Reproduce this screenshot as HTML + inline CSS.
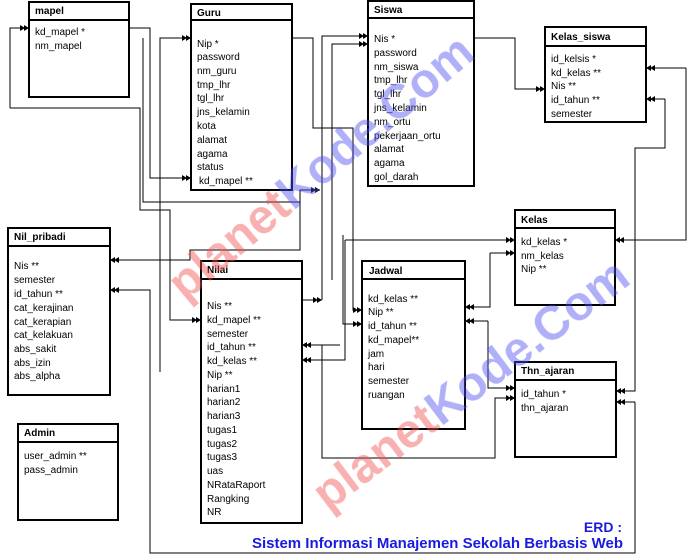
<!DOCTYPE html>
<html><head><meta charset="utf-8"><style>
body{margin:0;background:#fff}
svg{display:block}
text{font-family:"Liberation Sans",sans-serif}
.t{font-size:10px;fill:#000}
.h{font-size:10px;font-weight:bold;fill:#000}
.b{fill:#fff;stroke:#000;stroke-width:2}
.l{fill:none;stroke:#000;stroke-width:1}
</style></head><body>
<svg width="700" height="557" viewBox="0 0 700 557" xmlns="http://www.w3.org/2000/svg">
<defs>
<marker id="a" markerWidth="10" markerHeight="6" refX="9" refY="3" orient="auto" markerUnits="userSpaceOnUse">
<path d="M0,0 L5,3 L0,6Z M4,0 L9,3 L4,6Z" fill="#000"/></marker>
</defs>
<!-- connectors -->
<g class="l" marker-end="url(#a)">
<path d="M10,108 V28 H29"/>
<path d="M10,108 H140 V210 H170 V320 H201"/>
<path d="M129,28 H150 V178 H191"/>
<path d="M143,38 V202 H300 V190 H320"/>
<path d="M160,372 V38 H191"/>
<path d="M292,38 H313 V128 H353 V310 H362"/>
<path d="M322,300 V36 H368"/>
<path d="M332,280 V44 H368"/>
<path d="M302,300 H322"/>
<path d="M474,38 H515 V89 H545"/>
<path d="M686,68 H646"/>
<path d="M686,68 V240 H615"/>
<path d="M665,99 H646"/>
<path d="M665,99 V148 H635 V391 H616"/>
<path d="M635,402 V553 H150 V290 H110"/>
<path d="M635,402 H616"/>
<path d="M300,200 V250 H190 V260 H110"/>
<path d="M345,240 H515"/>
<path d="M345,240 V360 H302"/>
<path d="M340,345 H302"/>
<path d="M343,235 V324 H362"/>
<path d="M490,253 H515"/>
<path d="M490,253 V307 H465"/>
<path d="M488,321 H465"/>
<path d="M488,321 V388 H515"/>
<path d="M322,345 V458 H495 V398 H515"/>
</g>
<!-- boxes -->
<g>
<rect class="b" x="29" y="2" width="100" height="95"/><line class="l" x1="29" y1="20" x2="129" y2="20" style="stroke-width:2"/>
<text class="h" x="35" y="14">mapel</text>
<text class="t" x="35" y="35">kd_mapel *</text><text class="t" x="35" y="49">nm_mapel</text>

<rect class="b" x="191" y="4" width="101" height="186"/><line class="l" x1="191" y1="20" x2="292" y2="20" style="stroke-width:2"/>
<text class="h" x="197" y="16">Guru</text>
<g class="t"><text x="197" y="47">Nip *</text><text x="197" y="60">password</text><text x="197" y="74">nm_guru</text><text x="197" y="88">tmp_lhr</text><text x="197" y="101">tgl_lhr</text><text x="197" y="115">jns_kelamin</text><text x="197" y="129">kota</text><text x="197" y="143">alamat</text><text x="197" y="157">agama</text><text x="197" y="170">status</text><text x="199" y="184">kd_mapel **</text></g>

<rect class="b" x="368" y="1" width="106" height="185"/><line class="l" x1="368" y1="18" x2="474" y2="18" style="stroke-width:2"/>
<text class="h" x="374" y="13">Siswa</text>
<g class="t"><text x="374" y="42">Nis *</text><text x="374" y="56">password</text><text x="374" y="70">nm_siswa</text><text x="374" y="83">tmp_lhr</text><text x="374" y="97">tgl_lhr</text><text x="374" y="111">jns_kelamin</text><text x="374" y="125">nm_ortu</text><text x="374" y="139">pekerjaan_ortu</text><text x="374" y="152">alamat</text><text x="374" y="166">agama</text><text x="374" y="180">gol_darah</text></g>

<rect class="b" x="545" y="27" width="101" height="95"/><line class="l" x1="545" y1="46" x2="646" y2="46" style="stroke-width:2"/>
<text class="h" x="551" y="40">Kelas_siswa</text>
<g class="t"><text x="551" y="62">id_kelsis *</text><text x="551" y="76">kd_kelas **</text><text x="551" y="89">Nis **</text><text x="551" y="103">id_tahun **</text><text x="551" y="117">semester</text></g>

<rect class="b" x="515" y="210" width="100" height="95"/><line class="l" x1="515" y1="228" x2="615" y2="228" style="stroke-width:2"/>
<text class="h" x="521" y="223">Kelas</text>
<g class="t"><text x="521" y="245">kd_kelas *</text><text x="521" y="259">nm_kelas</text><text x="521" y="272">Nip **</text></g>

<rect class="b" x="8" y="228" width="102" height="167"/><line class="l" x1="8" y1="246" x2="110" y2="246" style="stroke-width:2"/>
<text class="h" x="14" y="240">Nil_pribadi</text>
<g class="t"><text x="14" y="269">Nis  **</text><text x="14" y="283">semester</text><text x="14" y="297">id_tahun **</text><text x="14" y="311">cat_kerajinan</text><text x="14" y="325">cat_kerapian</text><text x="14" y="338">cat_kelakuan</text><text x="14" y="352">abs_sakit</text><text x="14" y="366">abs_izin</text><text x="14" y="379">abs_alpha</text></g>

<rect class="b" x="201" y="261" width="101" height="262"/><line class="l" x1="201" y1="279" x2="302" y2="279" style="stroke-width:2"/>
<text class="h" x="207" y="273">Nilai</text>
<g class="t"><text x="207" y="309">Nis **</text><text x="207" y="323">kd_mapel **</text><text x="207" y="337">semester</text><text x="207" y="350">id_tahun **</text><text x="207" y="364">kd_kelas **</text><text x="207" y="378">Nip **</text><text x="207" y="392">harian1</text><text x="207" y="405">harian2</text><text x="207" y="419">harian3</text><text x="207" y="433">tugas1</text><text x="207" y="447">tugas2</text><text x="207" y="460">tugas3</text><text x="207" y="474">uas</text><text x="207" y="488">NRataRaport</text><text x="207" y="502">Rangking</text><text x="207" y="515">NR</text></g>

<rect class="b" x="362" y="261" width="103" height="168"/><line class="l" x1="362" y1="279" x2="465" y2="279" style="stroke-width:2"/>
<text class="h" x="369" y="274">Jadwal</text>
<g class="t"><text x="368" y="302">kd_kelas **</text><text x="368" y="315">Nip **</text><text x="368" y="329">id_tahun **</text><text x="368" y="343">kd_mapel**</text><text x="368" y="357">jam</text><text x="368" y="370">hari</text><text x="368" y="384">semester</text><text x="368" y="398">ruangan</text></g>

<rect class="b" x="515" y="362" width="101" height="95"/><line class="l" x1="515" y1="380" x2="616" y2="380" style="stroke-width:2"/>
<text class="h" x="521" y="374">Thn_ajaran</text>
<g class="t"><text x="521" y="397">id_tahun  *</text><text x="521" y="411">thn_ajaran</text></g>

<rect class="b" x="18" y="424" width="100" height="96"/><line class="l" x1="18" y1="442" x2="118" y2="442" style="stroke-width:2"/>
<text class="h" x="24" y="436">Admin</text>
<g class="t"><text x="24" y="459">user_admin **</text><text x="24" y="473">pass_admin</text></g>
</g>
<!-- watermark -->
<g opacity="0.45" font-family="Liberation Sans" font-weight="bold" font-size="48">
<text transform="translate(185,302) rotate(-40)"><tspan fill="#f05050">planet</tspan><tspan fill="#5050f0">Kode.Com</tspan></text>
<text transform="translate(328,512) rotate(-37)"><tspan fill="#f05050">planet</tspan><tspan fill="#5050f0">Kode.Com</tspan></text>
</g>
<g font-family="Liberation Sans" font-weight="bold" font-size="15" fill="#1a1ae0" text-anchor="end">
<text x="622" y="532" font-size="14">ERD :</text>
<text x="623" y="548" textLength="371" lengthAdjust="spacingAndGlyphs">Sistem Informasi Manajemen Sekolah Berbasis Web</text>
</g>
</svg>
</body></html>
